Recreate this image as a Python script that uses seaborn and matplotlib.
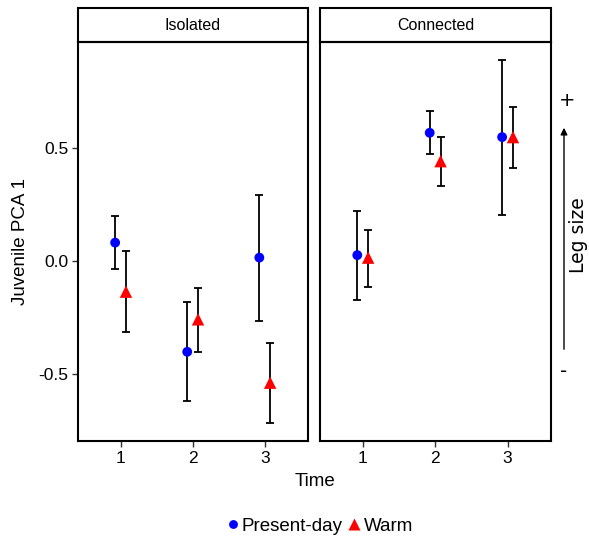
import matplotlib
matplotlib.use("Agg")
import matplotlib.pyplot as plt
from matplotlib.patches import Rectangle, FancyArrowPatch
import seaborn as sns
import pandas as pd

panels = ["Isolated", "Connected"]
times = [1, 2, 3]
temps = ["Present-day", "Warm"]

# mean, lower, upper per panel / temperature, in time order
iso_present = [0.081, -0.400, 0.015]
iso_present_lo = [-0.037, -0.617, -0.263]
iso_present_hi = [0.200, -0.182, 0.290]
iso_warm = [-0.135, -0.257, -0.536]
iso_warm_lo = [-0.314, -0.402, -0.712]
iso_warm_hi = [0.045, -0.120, -0.363]

con_present = [0.026, 0.565, 0.546]
con_present_lo = [-0.173, 0.470, 0.203]
con_present_hi = [0.220, 0.660, 0.887]
con_warm = [0.015, 0.440, 0.546]
con_warm_lo = [-0.116, 0.332, 0.410]
con_warm_hi = [0.138, 0.545, 0.677]

rows = []
series = {
    ("Isolated", "Present-day"): (iso_present, iso_present_lo, iso_present_hi),
    ("Isolated", "Warm"): (iso_warm, iso_warm_lo, iso_warm_hi),
    ("Connected", "Present-day"): (con_present, con_present_lo, con_present_hi),
    ("Connected", "Warm"): (con_warm, con_warm_lo, con_warm_hi),
}
for (panel, temp), (m, lo, hi) in series.items():
    for t, a, b, c in zip(times, m, lo, hi):
        rows.append({"panel": panel, "temp": temp, "time": t, "mean": a, "lo": b, "hi": c})
df = pd.DataFrame(rows)
dodge = {"Present-day": -0.075, "Warm": 0.075}
df["x"] = df["time"] + df["temp"].map(dodge)

sns.set_style("white")
plt.rcParams["font.family"] = ["Liberation Sans", "DejaVu Sans"]
plt.rcParams["text.color"] = "black"
plt.rcParams["xtick.color"] = "black"
plt.rcParams["ytick.color"] = "black"
plt.rcParams["axes.labelcolor"] = "black"

fig = plt.figure(figsize=(5.89, 5.4), dpi=100)
ax1 = fig.add_axes([78 / 589, 1 - 441 / 540, 230 / 589, 399 / 540])
ax2 = fig.add_axes([320 / 589, 1 - 441 / 540, 231 / 589, 399 / 540], sharey=ax1)

palette = {"Present-day": "#0000ff", "Warm": "#ff0000"}
markers = {"Present-day": "o", "Warm": "^"}
sizes = {"Present-day": 50, "Warm": 80}

for ax, panel in zip([ax1, ax2], panels):
    d = df[df["panel"] == panel]
    ax.errorbar(d["x"], d["mean"], yerr=[d["mean"] - d["lo"], d["hi"] - d["mean"]],
                fmt="none", ecolor="black", elinewidth=1.3, capsize=3, capthick=1.3, zorder=2)
    sns.scatterplot(data=d, x="x", y="mean", hue="temp", style="temp", size="temp",
                    palette=palette, markers=markers, sizes=sizes, edgecolor="none",
                    legend=(panel == "Connected"), ax=ax, zorder=3)
    ax.set_xlim(0.41, 3.6)
    ax.set_ylim(-0.793, 0.965)
    ax.set_xticks(times)
    ax.set_xlabel("")
    ax.set_ylabel("")
    for s in ax.spines.values():
        s.set_color("black")
        s.set_linewidth(1.5)
    ax.tick_params(axis="x", bottom=True, length=4, width=1, color="#333333",
                   labelsize=12.5, pad=3)
    ax.add_patch(Rectangle((0, 1.0), 1, 0.085, transform=ax.transAxes,
                           facecolor="white", edgecolor="black", linewidth=1.5,
                           clip_on=False))
    ax.text(0.5, 1.0425, panel, transform=ax.transAxes, ha="center", va="center",
            fontsize=11.5)

ax1.set_yticks([-0.5, 0.0, 0.5])
ax1.set_yticklabels(["-0.5", "0.0", "0.5"])
ax1.tick_params(axis="y", left=True, length=4, width=1, color="#333333",
                labelsize=12.5, pad=3)
ax2.tick_params(axis="y", left=False, labelleft=False)
ax1.set_ylabel("Juvenile PCA 1", fontsize=13.5, labelpad=7)

handles, labels = ax2.get_legend_handles_labels()
ax2.get_legend().remove()
fig.legend(handles, labels, loc="center", bbox_to_anchor=(318 / 589, 1 - 526 / 540),
           ncol=2, frameon=False, fontsize=13.5, handletextpad=0.0,
           columnspacing=0.1, handlelength=1.0, markerscale=0.9)

fig.text(315 / 589, 1 - 482 / 540, "Time", ha="center", va="center", fontsize=13.5)

# leg size annotation on the right
fig.patches.append(FancyArrowPatch(
    (564 / 589, 1 - 352 / 540), (564 / 589, 1 - 125 / 540), transform=fig.transFigure,
    arrowstyle="-|>", mutation_scale=10, linewidth=1, color="black"))
fig.text(567 / 589, 1 - 101 / 540, "+", ha="center", va="center", fontsize=14,
         family="DejaVu Sans")
fig.text(564 / 589, 1 - 372 / 540, "-", ha="center", va="center", fontsize=14,
         family="DejaVu Sans")
fig.text(578 / 589, 1 - 235 / 540, "Leg size", ha="center", va="center", fontsize=13.5,
         rotation=90, family="DejaVu Sans")

fig.savefig("out.png", dpi=100)
